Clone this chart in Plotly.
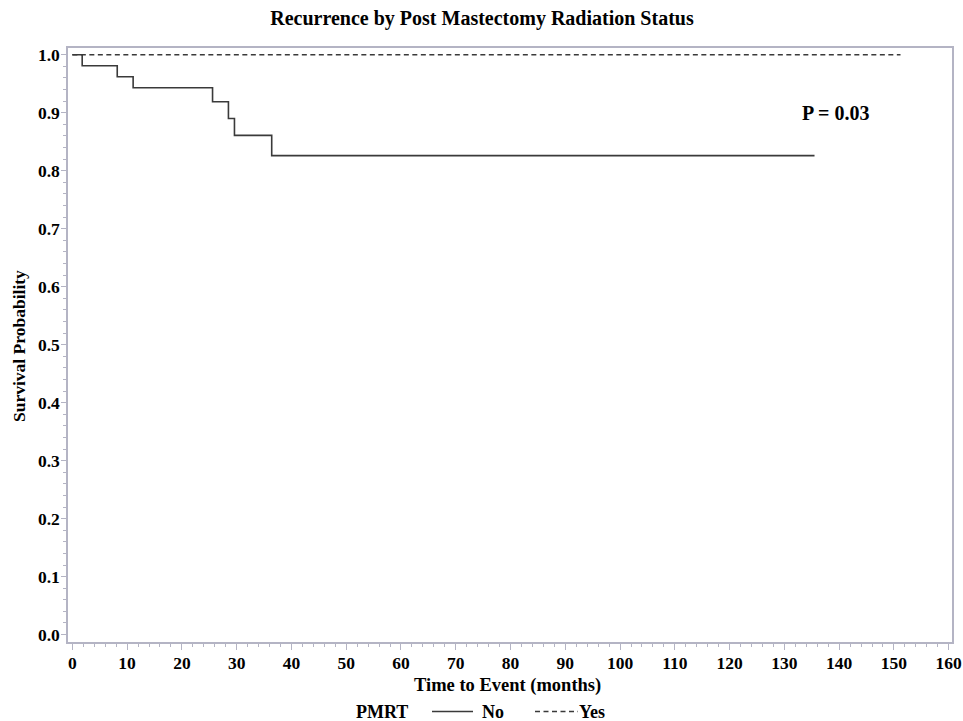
import plotly.graph_objects as go

# Kaplan-Meier step data
no_times = [0, 1.8, 8.2, 11.1, 25.6, 28.5, 29.6, 36.4, 135.5]
no_surv = [1.0, 0.981, 0.962, 0.943, 0.919, 0.890, 0.861, 0.826, 0.826]
yes_times = [0, 151.2]
yes_surv = [1.0, 1.0]

x_ticks = list(range(0, 161, 10))
y_ticks = [round(i * 0.1, 1) for i in range(11)]

legend_title = "PMRT"
legend_labels = ["No", "Yes"]

font_family = "Liberation Serif, Times New Roman, serif"
line_color = "#3a3a3a"
axis_color = "#b4b4c4"
dash_style = "5px,3.5px"

W, H = 963, 721
L, R, T, B = 68, 952, 48, 642


def px(x):
    return (x - L) / (R - L)


def py(y):
    return (B - y) / (B - T)


fig = go.Figure()
fig.add_trace(go.Scatter(
    x=no_times, y=no_surv, mode="lines", line_shape="hv", name=legend_labels[0],
    line=dict(color=line_color, width=1.6), showlegend=False))
fig.add_trace(go.Scatter(
    x=yes_times, y=yes_surv, mode="lines", line_shape="hv", name=legend_labels[1],
    line=dict(color=line_color, width=1.4, dash=dash_style), showlegend=False))

fig.add_annotation(x=139.5, y=0.899, text="<b>P = 0.03</b>", showarrow=False,
                   font=dict(family=font_family, size=20, color="black"))

# manual legend at bottom
leg_y = py(712)
fig.add_annotation(xref="paper", yref="paper", x=px(354), y=leg_y, text=f"<b>{legend_title}</b>",
                   showarrow=False, xanchor="left", yanchor="middle",
                   font=dict(family=font_family, size=18, color="black"))
fig.add_shape(type="line", xref="paper", yref="paper", x0=px(432), x1=px(473), y0=py(711.5), y1=py(711.5),
              line=dict(color=line_color, width=1.6))
fig.add_annotation(xref="paper", yref="paper", x=px(480), y=leg_y, text=f"<b>{legend_labels[0]}</b>",
                   showarrow=False, xanchor="left", yanchor="middle",
                   font=dict(family=font_family, size=18, color="black"))
fig.add_shape(type="line", xref="paper", yref="paper", x0=px(535), x1=px(578), y0=py(711.5), y1=py(711.5),
              line=dict(color=line_color, width=1.4, dash=dash_style))
fig.add_annotation(xref="paper", yref="paper", x=px(577), y=leg_y, text=f"<b>{legend_labels[1]}</b>",
                   showarrow=False, xanchor="left", yanchor="middle",
                   font=dict(family=font_family, size=18, color="black"))

# axis titles
fig.add_annotation(xref="paper", yref="paper", x=px(507), y=py(686), text="<b>Time to Event (months)</b>",
                   showarrow=False, xanchor="center", yanchor="middle",
                   font=dict(family=font_family, size=18.5, color="black"))
fig.add_annotation(xref="paper", yref="paper", x=px(19), y=py(346), text="<b>Survival Probability</b>",
                   showarrow=False, xanchor="center", yanchor="middle", textangle=-90,
                   font=dict(family=font_family, size=17.5, color="black"))

fig.update_layout(
    width=W, height=H,
    margin=dict(l=L, r=W - R, t=T, b=H - B),
    paper_bgcolor="white", plot_bgcolor="white",
    title=dict(text="<b>Recurrence by Post Mastectomy Radiation Status</b>",
               x=px(482), xanchor="center", xref="paper", y=1 - 18 / H, yanchor="middle",
               font=dict(family=font_family, size=20, color="black")),
    font=dict(family=font_family, color="black"),
    showlegend=False,
)

fig.update_xaxes(
    range=[-0.79, 160.6], tickmode="array", tickvals=x_ticks,
    ticktext=[f"<b>{v}</b>" for v in x_ticks],
    tickfont=dict(family=font_family, size=17.5, color="black"),
    ticks="outside", ticklen=6, tickcolor=axis_color, tickwidth=1.2,
    ticklabelstandoff=-2,
    minor=dict(dtick=2, tick0=0, ticks="outside", ticklen=3.5, tickcolor=axis_color, tickwidth=1.2),
    showline=True, linecolor=axis_color, linewidth=1.5, mirror=True,
    showgrid=False, zeroline=False, automargin=False,
)
fig.update_yaxes(
    range=[-0.0128, 1.0116], tickmode="array", tickvals=y_ticks,
    ticktext=[f"<b>{v:.1f}</b>" for v in y_ticks],
    tickfont=dict(family=font_family, size=17.5, color="black"),
    ticks="outside", ticklen=5, tickcolor=axis_color, tickwidth=1.2,
    ticklabelstandoff=-2,
    minor=dict(dtick=0.02, tick0=0, ticks="outside", ticklen=3.5, tickcolor=axis_color, tickwidth=1.2),
    showline=True, linecolor=axis_color, linewidth=1.5, mirror=True,
    showgrid=False, zeroline=False, automargin=False,
)

fig.write_html(
    "out.html",
    config={"displayModeBar": False},
    post_script="document.body.style.margin='0';document.body.style.overflow='hidden';",
)
